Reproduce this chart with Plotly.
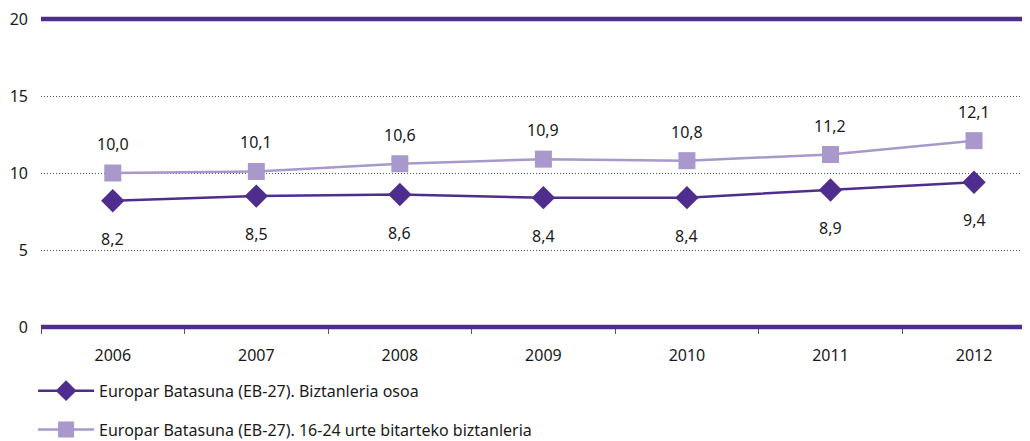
import plotly.graph_objects as go

years = ["2006", "2007", "2008", "2009", "2010", "2011", "2012"]
eb27_total = [8.2, 8.5, 8.6, 8.4, 8.4, 8.9, 9.4]
eb27_youth = [10.0, 10.1, 10.6, 10.9, 10.8, 11.2, 12.1]
names = ["Europar Batasuna (EB-27). Biztanleria osoa",
         "Europar Batasuna (EB-27). 16-24 urte bitarteko biztanleria"]

dark = "#4F2D8F"
light = "#A898CB"
font_name = "Noto Sans"

fig = go.Figure()

fig.add_trace(go.Scatter(
    x=years, y=eb27_total, name=names[0], mode="lines+markers",
    line=dict(color=dark, width=2.5),
    marker=dict(symbol="diamond", size=18, color=dark),
    legendgroup="a"
))
fig.add_trace(go.Scatter(
    x=years, y=eb27_youth, name=names[1], mode="lines+markers",
    line=dict(color=light, width=2.5),
    marker=dict(symbol="square", size=17, color=light),
    legendgroup="b"
))

annotations = []
for i, v in enumerate(eb27_total):
    annotations.append(dict(x=i, y=v, xref="x", yref="y",
                            text=f"{v:.1f}".replace(".", ","),
                            showarrow=False, yshift=-38,
                            font=dict(size=16, color="#1a1a1a")))
for i, v in enumerate(eb27_youth):
    annotations.append(dict(x=i, y=v, xref="x", yref="y",
                            text=f"{v:.1f}".replace(".", ","),
                            showarrow=False, yshift=29,
                            font=dict(size=16, color="#1a1a1a")))

shapes = []
for yv in (0, 1):
    shapes.append(dict(type="line", xref="paper", x0=0, x1=1, yref="paper",
                       y0=yv, y1=yv, line=dict(color=dark, width=4.5)))

# page body has an 8px margin, so the figure is a bit smaller than the window
fig.update_layout(
    width=1022, height=433,
    margin=dict(l=33, r=0, t=11, b=114, autoexpand=False),
    paper_bgcolor="white", plot_bgcolor="white",
    font=dict(family=font_name, size=16, color="#1a1a1a"),
    showlegend=True,
    legend=dict(x=-0.008, y=-0.152, xanchor="left", yanchor="top",
                traceorder="grouped", tracegroupgap=15,
                font=dict(size=16, color="#1a1a1a"),
                itemwidth=56),
    xaxis=dict(type="category", range=[-0.5, 6.39], showgrid=False,
               showline=False, zeroline=False, automargin=False,
               ticks="outside", tickson="boundaries", ticklen=6,
               tickcolor="#555", tickwidth=1, ticklabelstandoff=17,
               tickfont=dict(size=16)),
    yaxis=dict(range=[0, 20], tickvals=[0, 5, 10, 15, 20],
               showgrid=True, gridcolor="#555", griddash="1px,2px",
               gridwidth=1, zeroline=False, showline=False, automargin=False,
               ticklabeloverflow="allow",
               ticklabelstandoff=12, tickfont=dict(size=16)),
    annotations=annotations,
    shapes=shapes,
)

fig.write_html("out.html")
